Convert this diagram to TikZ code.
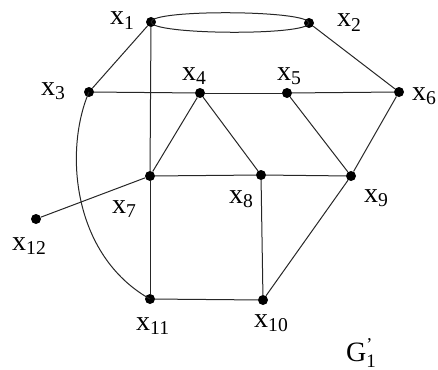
\documentclass[tikz,border=0pt]{standalone}
\usepackage{fontspec}
\setmainfont{Liberation Serif}
\begin{document}
\begin{tikzpicture}[x=1pt,y=-1pt,
  vtx/.style={circle,fill=black,inner sep=0pt,minimum size=10pt},
  lbl/.style={anchor=base west,inner sep=0pt,font=\fontsize{28}{32}\selectfont},
  edge/.style={line width=1pt,draw=black!85}]
\useasboundingbox (0,0) rectangle (438,369);
\node[vtx] (x1) at (151,22) {};
\node[vtx] (x2) at (309,23) {};
\node[vtx] (x3) at (89,92) {};
\node[vtx] (x4) at (200,93) {};
\node[vtx] (x5) at (287,93) {};
\node[vtx] (x6) at (399,92) {};
\node[vtx] (x7) at (150,176) {};
\node[vtx] (x8) at (261,175) {};
\node[vtx] (x9) at (351,176) {};
\node[vtx] (x10) at (263,300) {};
\node[vtx] (x11) at (150,299) {};
\node[vtx] (x12) at (36,219) {};
\begin{scope}[edge]
\draw (x1.center) .. controls (151,9) and (309,10) .. (x2.center);
\draw (x1.center) .. controls (151,35) and (309,36) .. (x2.center);
\draw (x1) -- (x3);
\draw (x1) -- (x7);
\draw (x2) -- (x6);
\draw (x3) -- (x4);
\draw (x4) -- (x5);
\draw (x5) -- (x6);
\draw (x3.center) .. controls (64,150) and (72,255) .. (x11.center);
\draw (x4) -- (x7);
\draw (x4) -- (x8);
\draw (x5) -- (x9);
\draw (x6) -- (x9);
\draw (x7) -- (x8);
\draw (x8) -- (x9);
\draw (x7) -- (x11);
\draw (x8) -- (x10);
\draw (x9) -- (x10);
\draw (x10) -- (x11);
\draw (x7) -- (x12);
\end{scope}
\node[lbl] (l1) at (110,25) {x\textsubscript{1}};
\node[lbl] (l2) at (337,27) {x\textsubscript{2}};
\node[lbl] (l3) at (41,95) {x\textsubscript{3}};
\node[lbl] (l4) at (182,80) {x\textsubscript{4}};
\node[lbl] (l5) at (277,80) {x\textsubscript{5}};
\node[lbl] (l6) at (412,100) {x\textsubscript{6}};
\node[lbl] (l7) at (112,213) {x\textsubscript{7}};
\node[lbl] (l8) at (229,203) {x\textsubscript{8}};
\node[lbl] (l9) at (364,202) {x\textsubscript{9}};
\node[lbl] (l10) at (254,327) {x\textsubscript{10}};
\node[lbl] (l11) at (136,330) {x\textsubscript{11}};
\node[lbl] (l12) at (12,250) {x\textsubscript{12}};
\node[lbl] (lg) at (346,361) {$\mbox{G}^{\mbox{\fontsize{18}{20}\selectfont '}}_{\mbox{\fontsize{19}{20}\selectfont 1}}$};
\end{tikzpicture}
\end{document}
